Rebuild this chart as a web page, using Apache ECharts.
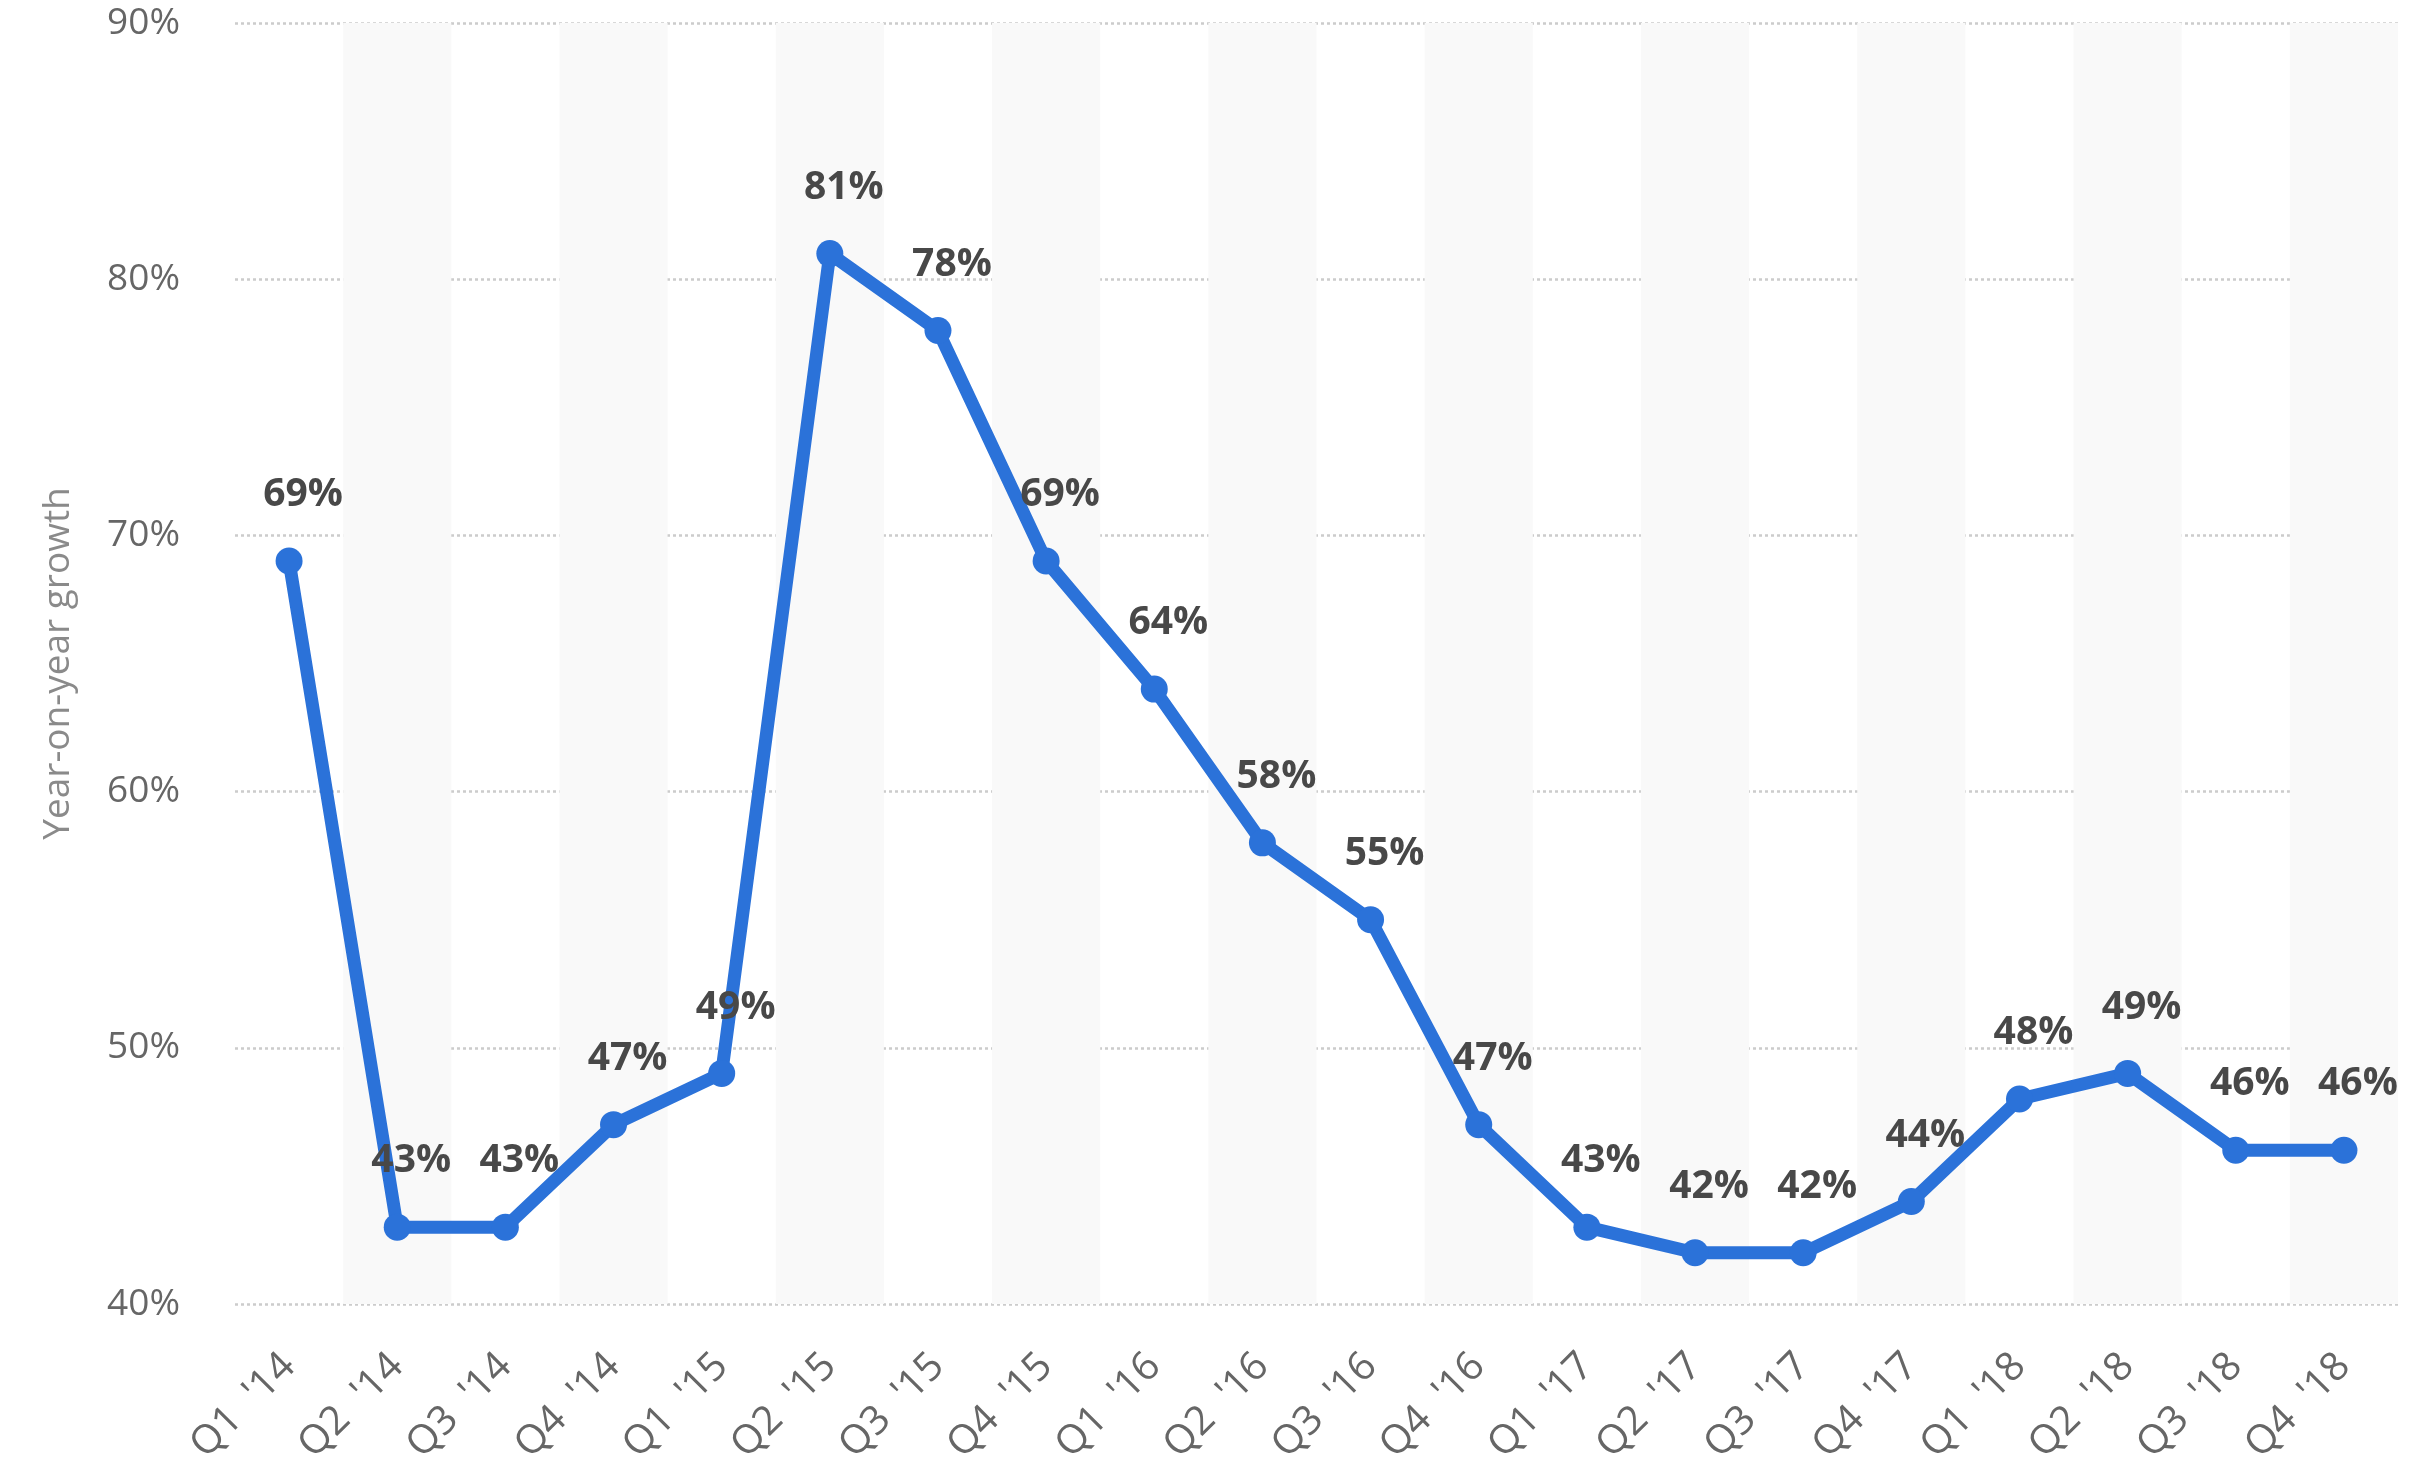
<!DOCTYPE html>
<html>
<head>
<meta charset="utf-8">
<script src="https://cdn.jsdelivr.net/npm/echarts@6/dist/echarts.min.js"></script>
<style>
html,body{margin:0;padding:0;background:#fff;}
#c{width:2434px;height:1471px;}
</style>
</head>
<body>
<div id="c"></div>
<script>
var categories = ["Q1 '14","Q2 '14","Q3 '14","Q4 '14","Q1 '15","Q2 '15","Q3 '15","Q4 '15","Q1 '16","Q2 '16","Q3 '16","Q4 '16","Q1 '17","Q2 '17","Q3 '17","Q4 '17","Q1 '18","Q2 '18","Q3 '18","Q4 '18"];
var growth = [69,43,43,47,49,81,78,69,64,58,55,47,43,42,42,44,48,49,46,46];
var yTicks = [40,50,60,70,80,90];
var yAxisTitle = "Year-on-year growth";

var chart = echarts.init(document.getElementById('c'), null, {renderer:'canvas'});
chart.setOption({
  animation:false,
  backgroundColor:'#ffffff',
  grid:{left:235, right:36, top:23, bottom:167, containLabel:false},
  xAxis:{
    type:'category',
    data:categories,
    boundaryGap:true,
    axisLine:{show:false},
    axisTick:{show:false},
    splitLine:{show:false},
    splitArea:{show:true, areaStyle:{color:['rgba(255,255,255,0)','#f9f9f9']}},
    axisLabel:{rotate:45, margin:56, color:'#666666', fontFamily:'Open Sans', fontSize:40, interval:0,
      formatter:function(v){return v.replace(' ', '  ');}}
  },
  yAxis:{
    type:'value',
    min:yTicks[0], max:yTicks[yTicks.length-1], interval:10,
    name:yAxisTitle,
    nameLocation:'middle',
    nameGap:158,
    nameTextStyle:{color:'#8a8a8a', fontFamily:'Open Sans', fontSize:37},
    axisLine:{show:false},
    axisTick:{show:false},
    axisLabel:{formatter:'{value}%', margin:55, color:'#666666', fontFamily:'Open Sans', fontSize:37},
    splitLine:{show:true, lineStyle:{color:'#cccccc', width:2.5, type:[3,3]}}
  },
  series:[{
    type:'line',
    data:growth,
    symbol:'circle',
    symbolSize:27,
    lineStyle:{color:'#2b72d9', width:13},
    itemStyle:{color:'#2b72d9'},
    label:{show:true, position:'inside', offset:[14,-66], formatter:'{c}%', color:'#484848', fontFamily:'Open Sans', fontWeight:'bold', fontSize:39}
  }]
});
</script>
</body>
</html>
